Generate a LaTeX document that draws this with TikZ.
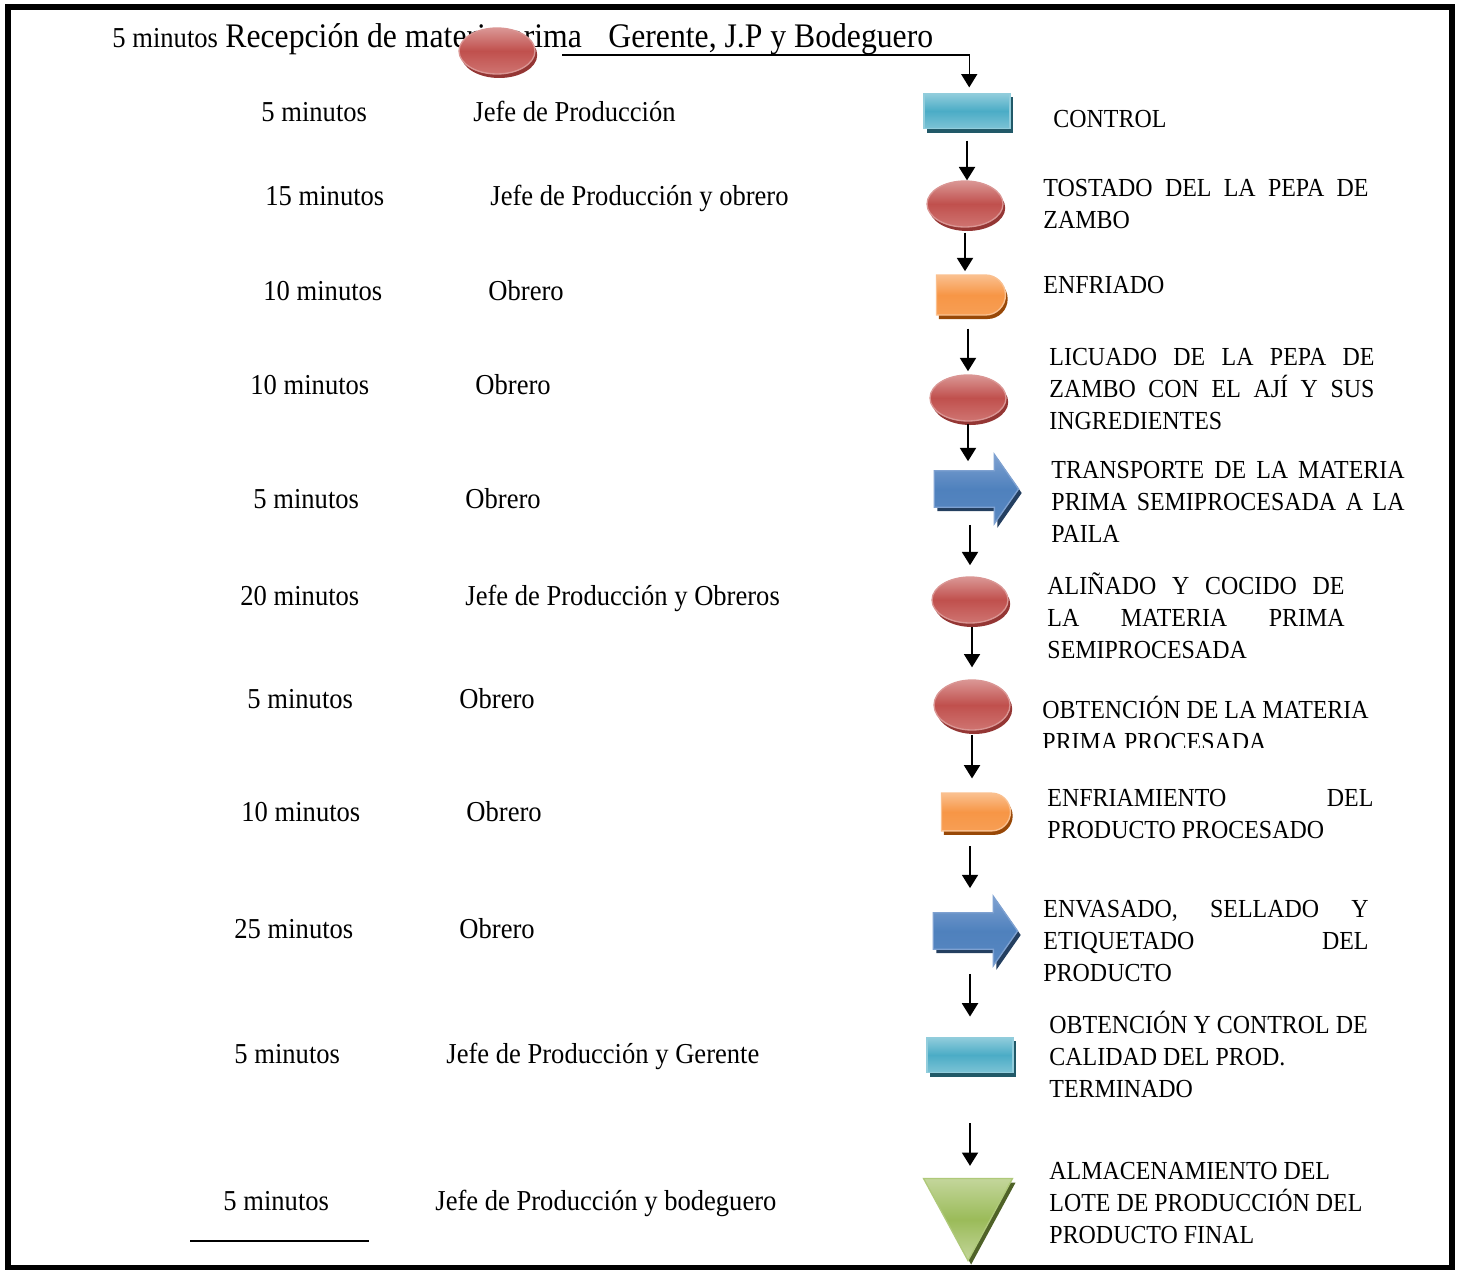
\documentclass[tikz,border=0pt]{standalone}
\usepackage{fontspec}
\setmainfont{Liberation Serif}[FakeStretch=0.92]
\usetikzlibrary{shapes.geometric,shapes.misc,shapes.arrows,shadows,arrows.meta}

\definecolor{rojo}{HTML}{C0504D}
\definecolor{rojoclaro}{HTML}{DA9694}
\definecolor{rojobajo}{HTML}{CF7471}
\definecolor{rojosombra}{HTML}{943634}
\definecolor{celeste}{HTML}{4BACC6}
\definecolor{celesteclaro}{HTML}{92CDDC}
\definecolor{celestesombra}{HTML}{215968}
\definecolor{naranja}{HTML}{F79646}
\definecolor{naranjaclaro}{HTML}{FAC08F}
\definecolor{naranjasombra}{HTML}{984807}
\definecolor{azul}{HTML}{4F81BD}
\definecolor{azulclaro}{HTML}{7EA1D1}
\definecolor{azulsombra}{HTML}{243F60}
\definecolor{verde}{HTML}{9BBB59}
\definecolor{verdeclaro}{HTML}{C3D69B}
\definecolor{verdesombra}{HTML}{4F6228}

\newcommand{\fuenteizq}{\fontsize{13}{15.6}\selectfont}
\newcommand{\fuenteder}{\fontsize{11.7}{14.4}\selectfont}
\newcommand{\fuentesup}{\fontsize{15.5}{18}\selectfont}
\newcommand{\lineaj}[2]{\makebox[#1][s]{#2}}

\begin{document}
\begin{tikzpicture}[x=0.45pt,y=-0.45pt,
  izq/.style={anchor=base west,inner sep=0pt,font=\fuenteizq},
  der/.style={anchor=base west,inner sep=0pt,font=\fuenteder},
  elipse/.style={ellipse,minimum width=34.2pt,minimum height=20.7pt,inner sep=0pt,
    draw=rojoclaro,line width=0.6pt,top color=rojoclaro,bottom color=rojobajo,middle color=rojo,
    drop shadow={shadow xshift=1pt,shadow yshift=-1.8pt,fill=rojosombra,opacity=1}},
  caja/.style={rectangle,minimum width=38.7pt,minimum height=16pt,inner sep=0pt,
    draw=celesteclaro,line width=0.6pt,top color=celesteclaro,bottom color=celesteclaro!70!celeste,middle color=celeste,
    drop shadow={shadow xshift=1.4pt,shadow yshift=-1.8pt,fill=celestesombra,opacity=1}},
  demora/.style={rounded rectangle,rounded rectangle west arc=none,minimum width=31pt,minimum height=18pt,inner sep=0pt,
    draw=naranjaclaro,line width=0.6pt,top color=naranjaclaro,bottom color=naranja!80!naranjaclaro,middle color=naranja,
    drop shadow={shadow xshift=1pt,shadow yshift=-1.8pt,fill=naranjasombra,opacity=1}},
  transp/.style={single arrow,minimum height=38pt,inner xsep=0pt,inner ysep=7.9pt,single arrow head extend=7.4pt,
    single arrow tip angle=110,
    draw=azulclaro,line width=0.6pt,top color=azulclaro,bottom color=azul!80!azulclaro,middle color=azul,
    drop shadow={shadow xshift=1.4pt,shadow yshift=-1.8pt,fill=azulsombra,opacity=1}},
  almac/.style={isosceles triangle,isosceles triangle stretches,shape border rotate=270,
    minimum width=40pt,minimum height=36.9pt,inner sep=0pt,
    draw=verde!80!white,line width=0.6pt,top color=verdeclaro,bottom color=verdeclaro,middle color=verde,
    drop shadow={shadow xshift=1.4pt,shadow yshift=-1.8pt,fill=verdesombra,opacity=1}},
  flecha/.style={-{Triangle[width=7.2pt,length=6pt]},line width=0.9pt}]

\useasboundingbox (0,0) rectangle (1460,1270);

% Frame
\draw[line width=2.7pt] (8,7) rectangle (1452,1268);

% Top row
\node[izq] (min0) at (112,48) {5 minutos};
\node[anchor=base west,inner sep=0pt,font=\fuentesup] (recepcion) at (225,48) {Recepción de materia prima};
\node[anchor=base west,inner sep=0pt,font=\fuentesup] (resp0) at (608,48) {Gerente, J.P y Bodeguero};
\node[elipse] (recep) at (497,51) {};

% Times and people
\node[izq] (min1) at (261,122) {5 minutos};
\node[izq] (resp1) at (473,122) {Jefe de Producción};
\node[izq] (min2) at (265,205) {15 minutos};
\node[izq] (resp2) at (490,205) {Jefe de Producción y obrero};
\node[izq] (min3) at (263,300) {10 minutos};
\node[izq] (resp3) at (488,300) {Obrero};
\node[izq] (min4) at (250,394) {10 minutos};
\node[izq] (resp4) at (475,394) {Obrero};
\node[izq] (min5) at (253,508) {5 minutos};
\node[izq] (resp5) at (465,508) {Obrero};
\node[izq] (min6) at (240,605) {20 minutos};
\node[izq] (resp6) at (465,605) {Jefe de Producción y Obreros};
\node[izq] (min7) at (247,708) {5 minutos};
\node[izq] (resp7) at (459,708) {Obrero};
\node[izq] (min8) at (241,821) {10 minutos};
\node[izq] (resp8) at (466,821) {Obrero};
\node[izq] (min9) at (234,938) {25 minutos};
\node[izq] (resp9) at (459,938) {Obrero};
\node[izq] (min10) at (234,1063) {5 minutos};
\node[izq] (resp10) at (446,1063) {Jefe de Producción y Gerente};
\node[izq] (min11) at (223,1210) {5 minutos};
\node[izq] (resp11) at (435,1210) {Jefe de Producción y bodeguero};
\draw[line width=0.7pt] (190,1241) -- (369,1241);

% Process symbols
\node[caja] (control) at (967,111) {};
\node[elipse] (tostado) at (965,204) {};
\node[demora] (enfriado) at (971,295) {};
\node[elipse] (licuado) at (968,398) {};
\node[transp] (transporte) at (970,489) {};
\node[elipse] (alinado) at (970,600) {};
\node[elipse,minimum height=22.5pt] (obtencion) at (972,705) {};
\node[demora,minimum height=17pt] (enfriamiento) at (976,812) {};
\node[transp] (envasado) at (969,931) {};
\node[caja] (calidad) at (970,1055) {};
\node[almac] (almacen) at (968,1205) {};

% Descriptions
\node[der] (d1) at (1053,128) {CONTROL};
\node[der] (d2) at (1043,196) {\begin{tabular}[t]{@{}l@{}}\lineaj{146.3pt}{TOSTADO DEL LA PEPA DE}\\ZAMBO\end{tabular}};
\node[der] (d3) at (1043,293) {ENFRIADO};
\node[der] (d4) at (1049,365) {\begin{tabular}[t]{@{}l@{}}\lineaj{146.3pt}{LICUADO DE LA PEPA DE}\\\lineaj{146.3pt}{ZAMBO CON EL AJÍ Y SUS}\\INGREDIENTES\end{tabular}};
\node[der] (d5) at (1051,478) {\begin{tabular}[t]{@{}l@{}}\lineaj{158.9pt}{TRANSPORTE DE LA MATERIA}\\\lineaj{158.9pt}{PRIMA SEMIPROCESADA A LA}\\PAILA\end{tabular}};
\node[der] (d6) at (1047,594) {\begin{tabular}[t]{@{}l@{}}\lineaj{133.7pt}{ALIÑADO Y COCIDO DE}\\\lineaj{133.7pt}{LA MATERIA PRIMA}\\SEMIPROCESADA\end{tabular}};
\begin{scope}
\clip (1000,660) rectangle (1440,747);
\node[der] (d7) at (1042,718) {\begin{tabular}[t]{@{}l@{}}OBTENCIÓN DE LA MATERIA\\PRIMA PROCESADA\end{tabular}};
\end{scope}
\node[der] (d8) at (1047,806) {\begin{tabular}[t]{@{}l@{}}\lineaj{146.7pt}{ENFRIAMIENTO DEL}\\PRODUCTO PROCESADO\end{tabular}};
\node[der] (d9) at (1043,917) {\begin{tabular}[t]{@{}l@{}}\lineaj{146.3pt}{ENVASADO, SELLADO Y}\\\lineaj{146.3pt}{ETIQUETADO DEL}\\PRODUCTO\end{tabular}};
\node[der] (d10) at (1049,1033) {\begin{tabular}[t]{@{}l@{}}OBTENCIÓN Y CONTROL DE\\CALIDAD DEL PROD.\\TERMINADO\end{tabular}};
\node[der] (d11) at (1049,1179) {\begin{tabular}[t]{@{}l@{}}ALMACENAMIENTO DEL\\LOTE DE PRODUCCIÓN DEL\\PRODUCTO FINAL\end{tabular}};

% Draw the flow
\coordinate (inicio) at (562,55);
\draw[flecha,line width=0.6pt,shorten >=2.3pt] (inicio) -| ([xshift=1pt]control.north);
\draw[flecha,shorten <=5pt] (control.south) -- (control.south |- tostado.north);
\draw[flecha,shorten <=2.2pt,shorten >=1.4pt] (tostado.south) -- (tostado.south |- enfriado.north);
\draw[flecha,shorten <=5.8pt,shorten >=1.4pt] (enfriado.south -| licuado.north) -- (licuado.north);
\draw[flecha,shorten <=0.9pt,shorten >=4pt] (licuado.south) -- (licuado.south |- transporte.north);
\draw[flecha,shorten <=7.6pt,shorten >=5pt] (transporte.south -| alinado.north) -- (alinado.north);
\draw[flecha,shorten <=1.4pt,shorten >=5.4pt] (alinado.south -| obtencion.north) -- (obtencion.north);
\draw[flecha,shorten <=1.8pt,shorten >=6.3pt] (obtencion.south) -- (obtencion.south |- enfriamiento.north);
\draw[flecha,shorten <=6.7pt,shorten >=10.8pt] (enfriamiento.south -| calidad.north) -- (envasado.north -| calidad.north);
\draw[flecha,shorten <=10.8pt,shorten >=9pt] (envasado.south -| calidad.north) -- (calidad.north);
\draw[flecha,shorten <=22.5pt,shorten >=5.4pt] (calidad.south) -- (calidad.south |- almacen.north);

\end{tikzpicture}
\end{document}
